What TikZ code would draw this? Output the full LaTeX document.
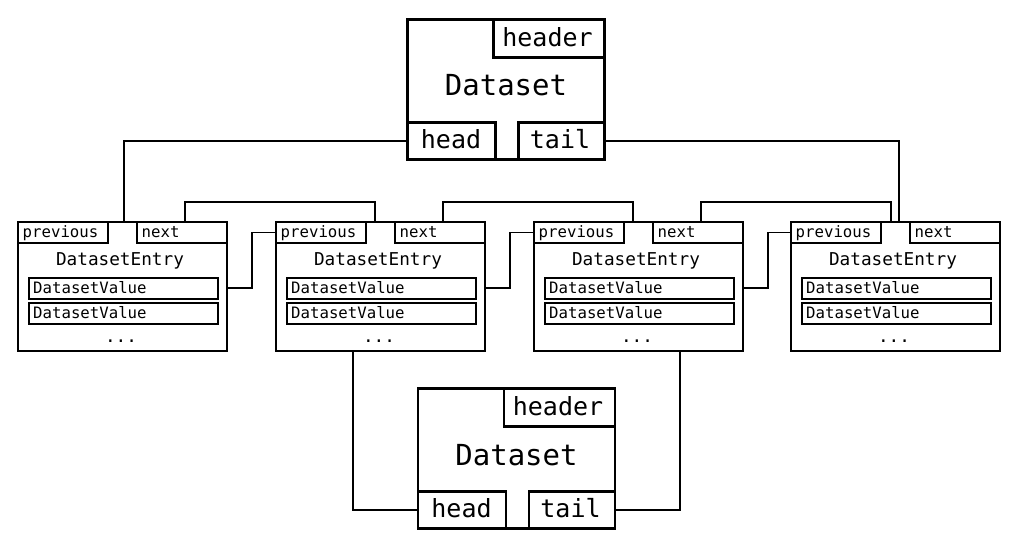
\documentclass[tikz,border=0pt]{standalone}
\usepackage{fontspec}
\setmainfont{DejaVu Sans Mono}
\begin{document}
\begin{tikzpicture}[x=1pt,y=-1pt,
  dsbox/.style={draw,line width=2.8pt,rectangle,inner sep=0pt,anchor=north west,fill=white},
  entbox/.style={draw,line width=1.9pt,rectangle,inner sep=0pt,anchor=north west,fill=white},
  wire/.style={line width=1.5pt},
  dstext/.style={inner sep=0pt,anchor=base,font=\fontsize{29}{29}\selectfont},
  parttext/.style={inner sep=0pt,anchor=base,font=\fontsize{25}{25}\selectfont},
  entrytext/.style={inner sep=0pt,anchor=base,font=\fontsize{17.7}{17.7}\selectfont},
  smalltext/.style={inner sep=0pt,anchor=base west,font=\fontsize{15.7}{15.7}\selectfont}]
\useasboundingbox (0,0) rectangle (1017,540);
% Datasets
\foreach \n/\dx/\dy in {t/0/0,b/10.5/369} {
  \node[dsbox,minimum width=197pt,minimum height=140pt] (d\n) at (406+\dx,18+\dy) {};
  \node[dsbox,minimum width=111pt,minimum height=38pt] (h\n) at (492+\dx,18+\dy) {};
  \node[dsbox,minimum width=88pt,minimum height=37pt] (hd\n) at (406+\dx,121+\dy) {};
  \node[dsbox,minimum width=86pt,minimum height=37pt] (tl\n) at (517+\dx,121+\dy) {};
  \node[dstext] (dst\n) at (506+\dx,96+\dy) {Dataset};
  \node[parttext] (ht\n) at (547.5+\dx,46.5+\dy) {header};
  \node[parttext] (hdt\n) at (451+\dx,148.5+\dy) {head};
  \node[parttext] (tlt\n) at (560+\dx,148.5+\dy) {tail};
}
% Entries
\foreach \i/\L in {1/17,2/275,3/533,4/790} {
  \node[entbox,minimum width=209pt,minimum height=129pt] (e\i) at (\L,221) {};
  \node[entbox,minimum width=90pt,minimum height=21pt] (p\i) at (\L,221) {};
  \node[entbox,minimum width=90pt,minimum height=21pt] (n\i) at (\L+119,221) {};
  \node[entbox,minimum width=189pt,minimum height=21pt] (va\i) at (\L+11,277) {};
  \node[entbox,minimum width=189pt,minimum height=21pt] (vb\i) at (\L+11,302) {};
  \node[smalltext] (pt\i) at (\L+5.5,237) {previous};
  \node[smalltext] (nt\i) at (\L+124.5,237) {next};
  \node[entrytext] (et\i) at (\L+103,265.5) {DatasetEntry};
  \node[smalltext] (vat\i) at (\L+16,293) {DatasetValue};
  \node[smalltext] (vbt\i) at (\L+16,318) {DatasetValue};
  \node[entrytext] (dots\i) at (\L+104,342) {...};
}
% wires
\draw[wire] (hdt.west) -| ([xshift=107pt]e1.north west);
\draw[wire] (tlt.east) -| ([xshift=109pt]e4.north west);
\draw[wire] (hdb.west) -| ([xshift=78pt]e2.south west);
\draw[wire] (tlb.east) -| ([xshift=147pt]e3.south west);
\foreach \i/\j/\o in {1/2/100,2/3/100,3/4/101} {
  \draw[wire] ([xshift=3pt]n\i.north) -- ++(0,-19) -| ([xshift=\o pt]e\j.north west);
  \draw[wire] ([yshift=-1.5pt]e\i.east) -- ++(24,0) |- (p\j.west);
}
\end{tikzpicture}
\end{document}
